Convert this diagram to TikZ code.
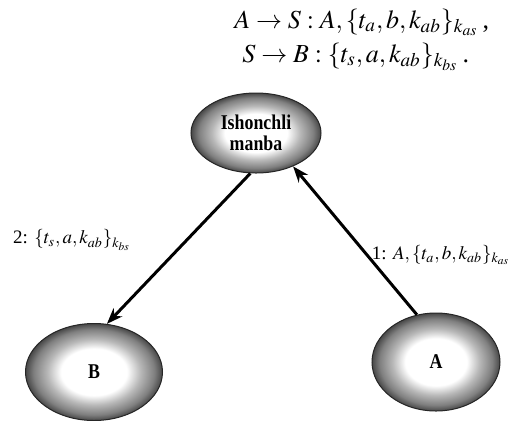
\documentclass[tikz,border=0pt]{standalone}
\usepackage{mathptmx}
\usepackage{fontspec}
\setmainfont{Liberation Serif}
\newfontfamily\partyfont[FakeStretch=0.85]{Liberation Serif}
\usetikzlibrary{arrows.meta,shapes.geometric}

% grainy ring: white centre, dark rim
\pgfdeclareradialshading{stipple}{\pgfpoint{0bp}{0bp}}{%
  color(0bp)=(white); color(12bp)=(white); color(17bp)=(black!28);
  color(22bp)=(black!50); color(25bp)=(black!72); color(50bp)=(black!72)}

\begin{document}
\begin{tikzpicture}[
    x=0.5pt, y=-0.5pt,
    >=Stealth,
    arr/.style={->, line width=1.5pt, arrows={-Stealth[length=8pt,width=6pt]}},
    party/.style={ellipse, draw=black!85, line width=0.5pt, shade, shading=stipple,
                  inner sep=0pt, align=center, font=\partyfont\fontsize{10.5}{10.5}\selectfont\bfseries},
    lbl/.style={font=\fontsize{9.5}{11}\selectfont, inner sep=1pt},
    proto/.style={anchor=base west, font=\fontsize{13}{16}\selectfont, inner sep=0pt}
]
\useasboundingbox (0,0) rectangle (510,420);

% =========================================================
% 1) PROTOCOL MESSAGES
% =========================================================
\node[proto] (msgA) at (234,28) {$A\rightarrow S: A,\{t_a,b,k_{ab}\}_{k_{as}}$\,,};
\node[proto] (msgS) at (242,62) {$S\rightarrow B:\{t_s,a,k_{ab}\}_{k_{bs}}$\,.};

% =========================================================
% 2) PARTIES
% =========================================================
\node[party, minimum width=65pt, minimum height=40pt] (src) at (256,133) {Ishonchli\\manba};
\node[party, minimum width=68.5pt, minimum height=48.5pt] (nb) at (94,372) {B};
\node[party, minimum width=64pt, minimum height=49pt] (na) at (436,362) {A};

% =========================================================
% 3) MESSAGE FLOW
% =========================================================
\draw[arr] (na.112) -- (src.318);
\draw[arr] (src.262) -- (nb.75);

\node[lbl] (lblA) at (441,255) {1: $A,\{t_a,b,k_{ab}\}_{k_{as}}$};
\node[lbl] (lblB) at (72,240) {2: $\{t_s,a,k_{ab}\}_{k_{bs}}$};

\end{tikzpicture}
\end{document}
